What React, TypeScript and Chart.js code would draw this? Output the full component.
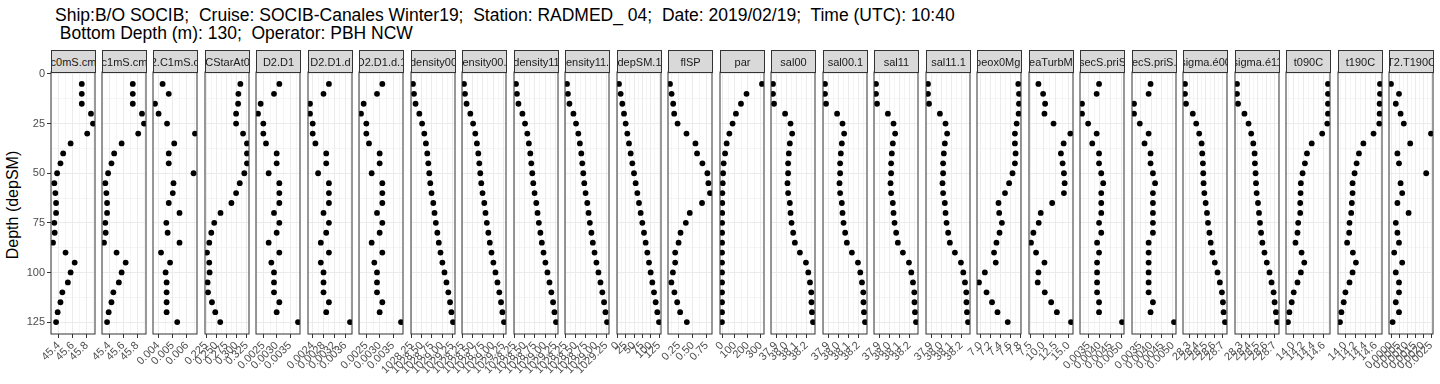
import React, { useEffect, useRef } from 'react';
import { Chart, registerables } from 'chart.js';

Chart.register(...registerables);

// ---------------- data ----------------
const depth = [5, 10, 15, 20, 25, 30, 35, 40, 45, 50, 55, 60, 65, 70, 75, 80, 85, 90, 95, 100, 105, 110, 115, 120, 125];
const yTickLabels = ['0', '25', '50', '75', '100', '125'];

const c0mS_cm = [45.731, 45.731, 45.731, 45.863, 45.892, 45.809, 45.571, 45.464, 45.425, 45.377, 45.337, 45.352, 45.362, 45.362, 45.337, 45.342, 45.318, 45.498, 45.629, 45.571, 45.531, 45.452, 45.425, 45.385, 45.362];
const c1mS_cm = [45.737, 45.737, 45.737, 45.869, 45.898, 45.815, 45.577, 45.470, 45.431, 45.383, 45.343, 45.358, 45.368, 45.368, 45.343, 45.348, 45.324, 45.504, 45.635, 45.577, 45.537, 45.458, 45.431, 45.391, 45.368];
const C2_C1mS_cm = [0.0043, 0.00473, 0.00377, 0.00402, 0.00461, 0.00656, 0.00511, 0.00473, 0.00473, 0.00646, 0.00506, 0.00501, 0.00473, 0.00548, 0.00456, 0.00465, 0.00548, 0.00419, 0.00482, 0.00451, 0.00458, 0.00458, 0.00458, 0.00458, 0.00532];
const CStarAt0 = [0.3094, 0.3045, 0.3038, 0.2989, 0.2989, 0.316, 0.3257, 0.3257, 0.3257, 0.3191, 0.3079, 0.2989, 0.2874, 0.2606, 0.2452, 0.2379, 0.233, 0.2274, 0.233, 0.2338, 0.2289, 0.2299, 0.2396, 0.2477, 0.2599];
const D2_D1 = [0.0031, 0.0029, 0.0024, 0.0023, 0.0025, 0.0025, 0.0026, 0.003, 0.003, 0.0027, 0.0031, 0.0031, 0.0031, 0.0029, 0.0031, 0.003, 0.0027, 0.0031, 0.0028, 0.0029, 0.0029, 0.0029, 0.0031, 0.003, 0.0038];
const D2_D1_d = [0.003, 0.0028, 0.0023, 0.0023, 0.0024, 0.0024, 0.0025, 0.0029, 0.0029, 0.0026, 0.003, 0.003, 0.003, 0.0028, 0.003, 0.0029, 0.0027, 0.003, 0.0027, 0.0028, 0.0028, 0.0028, 0.003, 0.0029, 0.00378];
const D2_D1_d_1 = [0.0031, 0.0029, 0.0024, 0.0023, 0.0025, 0.0025, 0.0026, 0.003, 0.003, 0.0027, 0.0031, 0.0031, 0.0031, 0.0029, 0.0031, 0.003, 0.0027, 0.0031, 0.0028, 0.0029, 0.0029, 0.0029, 0.0031, 0.003, 0.0038];
const density00 = [1028.287, 1028.311, 1028.35, 1028.443, 1028.511, 1028.565, 1028.604, 1028.638, 1028.663, 1028.687, 1028.711, 1028.743, 1028.785, 1028.816, 1028.848, 1028.885, 1028.921, 1028.963, 1029.009, 1029.06, 1029.109, 1029.155, 1029.197, 1029.231, 1029.27];
const density00_1 = [1028.287, 1028.311, 1028.35, 1028.443, 1028.511, 1028.565, 1028.604, 1028.638, 1028.663, 1028.687, 1028.711, 1028.743, 1028.785, 1028.816, 1028.848, 1028.885, 1028.921, 1028.963, 1029.009, 1029.06, 1029.109, 1029.155, 1029.197, 1029.231, 1029.27];
const density11 = [1028.288, 1028.311, 1028.348, 1028.446, 1028.51, 1028.566, 1028.604, 1028.639, 1028.663, 1028.688, 1028.712, 1028.744, 1028.786, 1028.817, 1028.849, 1028.887, 1028.922, 1028.964, 1029.01, 1029.06, 1029.11, 1029.156, 1029.198, 1029.232, 1029.27];
const density11_1 = [1028.288, 1028.311, 1028.348, 1028.446, 1028.51, 1028.566, 1028.604, 1028.639, 1028.663, 1028.688, 1028.712, 1028.744, 1028.786, 1028.817, 1028.849, 1028.887, 1028.922, 1028.964, 1029.01, 1029.06, 1029.11, 1029.156, 1029.198, 1029.232, 1029.27];
const depSM_1 = [5, 10, 15, 20, 25, 30, 35, 40, 45, 50, 55, 60, 65, 70, 75, 80, 85, 90, 95, 100, 105, 110, 115, 120, 125];
const flSP = [0.091, 0.12, 0.148, 0.166, 0.227, 0.387, 0.548, 0.577, 0.673, 0.762, 0.78, 0.809, 0.666, 0.446, 0.375, 0.28, 0.245, 0.184, 0.184, 0.143, 0.116, 0.17, 0.22, 0.273, 0.393];
const par = [310, 190, 147, 108, 82, 57, 36, 24, 13, 8.5, 5.4, 3, 2, 1.5, 1, 0.7, 0.5, 0.3, 0.2, 0.1, 0.1, 0.05, 0.03, 0.01, 0];
const sal00 = [37.868, 37.868, 37.878, 37.988, 38.042, 38.058, 38.035, 38.025, 38.018, 38.018, 38.012, 38.018, 38.035, 38.042, 38.052, 38.068, 38.085, 38.135, 38.195, 38.218, 38.235, 38.248, 38.25, 38.255, 38.265];
const sal00_1 = [37.868, 37.868, 37.878, 37.988, 38.042, 38.058, 38.035, 38.025, 38.018, 38.018, 38.012, 38.018, 38.035, 38.042, 38.052, 38.068, 38.085, 38.135, 38.195, 38.218, 38.235, 38.248, 38.25, 38.255, 38.265];
const sal11 = [37.869, 37.869, 37.879, 37.987, 38.043, 38.059, 38.036, 38.026, 38.019, 38.019, 38.013, 38.019, 38.036, 38.043, 38.053, 38.069, 38.086, 38.136, 38.196, 38.219, 38.236, 38.249, 38.251, 38.256, 38.266];
const sal11_1 = [37.869, 37.869, 37.879, 37.987, 38.043, 38.059, 38.036, 38.026, 38.019, 38.019, 38.013, 38.019, 38.036, 38.043, 38.053, 38.069, 38.086, 38.136, 38.196, 38.219, 38.236, 38.249, 38.251, 38.256, 38.266];
const sbeox0Mg_L = [7.765, 7.779, 7.779, 7.772, 7.731, 7.696, 7.696, 7.71, 7.696, 7.647, 7.578, 7.494, 7.362, 7.376, 7.431, 7.383, 7.32, 7.271, 7.306, 7.084, 6.965, 7.118, 7.23, 7.341, 7.55];
const seaTurbMtr = [9.07, 10.0, 10.4, 10.27, 12.07, 15.4, 14.07, 13.53, 13.87, 14.13, 14.27, 14.13, 11.8, 9.53, 9.13, 8.07, 7.6, 8.6, 10.27, 9.07, 8.93, 10.33, 11.6, 12.73, 15.53];
const secS_priS = [0.00397, 0.00386, 0.00319, 0.00319, 0.00347, 0.00386, 0.00366, 0.00397, 0.00397, 0.00407, 0.00416, 0.00407, 0.00407, 0.00407, 0.00397, 0.00407, 0.00388, 0.00397, 0.00388, 0.00388, 0.00388, 0.00388, 0.00397, 0.00397, 0.00502];
const secS_priS_1 = [0.00397, 0.00388, 0.0032, 0.0032, 0.00347, 0.00388, 0.00369, 0.00397, 0.00397, 0.00408, 0.00418, 0.00408, 0.00408, 0.00408, 0.00408, 0.00408, 0.00388, 0.00388, 0.00388, 0.00388, 0.00388, 0.00388, 0.00408, 0.00397, 0.00506];
const sigma_e00 = [28.247, 28.247, 28.259, 28.341, 28.382, 28.418, 28.447, 28.455, 28.463, 28.467, 28.471, 28.48, 28.496, 28.512, 28.524, 28.541, 28.557, 28.578, 28.606, 28.639, 28.667, 28.692, 28.704, 28.712, 28.729];
const sigma_e11 = [28.247, 28.247, 28.259, 28.337, 28.386, 28.418, 28.443, 28.459, 28.463, 28.471, 28.476, 28.484, 28.5, 28.512, 28.524, 28.537, 28.553, 28.578, 28.606, 28.639, 28.663, 28.688, 28.7, 28.716, 28.729];
const t090C = [14.687, 14.687, 14.687, 14.687, 14.673, 14.573, 14.367, 14.273, 14.233, 14.187, 14.153, 14.147, 14.14, 14.14, 14.1, 14.087, 14.047, 14.167, 14.22, 14.153, 14.087, 14.013, 13.973, 13.927, 13.9];
const t190C = [14.687, 14.687, 14.68, 14.68, 14.673, 14.56, 14.36, 14.273, 14.227, 14.187, 14.147, 14.147, 14.133, 14.12, 14.087, 14.08, 14.04, 14.153, 14.213, 14.147, 14.087, 14.007, 13.973, 13.927, 13.9];
const T2_T190C = [0, 0.0005, 0.0003, 0.0006, 0.0008, 0.0025, 0.0012, 0.0004, 0.0005, 0.0022, 0.0006, 0.0007, 0.0004, 0.0011, 0.0003, 0.0004, 0.0005, 0.0002, 0.0007, 0.0003, 0.0005, 0.0005, 0.0003, 0.0005, 0.0001];

// tick labels per panel
const ticksCond = ['45.4', '45.6', '45.8'];
const ticksC2C1 = ['0.004', '0.005', '0.006'];
const ticksCStar = ['0.225', '0.250', '0.275', '0.300', '0.325'];
const ticksD2D1 = ['0.0025', '0.0030', '0.0035'];
const ticksD2D1d = ['0.0024', '0.0028', '0.0032', '0.0036'];
const ticksDensity = ['1028.25', '1028.50', '1028.75', '1029.00', '1029.25'];
const ticksDepth = ['0', '25', '50', '75', '100', '125'];
const ticksFlSP = ['0.25', '0.50', '0.75'];
const ticksPar = ['0', '100', '200', '300'];
const ticksSal = ['37.9', '38.0', '38.1', '38.2'];
const ticksOx = ['7.0', '7.2', '7.4', '7.6', '7.8'];
const ticksTurb = ['7.5', '10.0', '12.5', '15.0'];
const ticksSecS = ['0.0035', '0.0040', '0.0045', '0.0050'];
const ticksSigma = ['28.3', '28.4', '28.5', '28.6', '28.7'];
const ticksTemp = ['14.0', '14.2', '14.4', '14.6'];
const ticksT2T1 = ['0.0000', '0.0005', '0.0010', '0.0015', '0.0020', '0.0025'];

const panelNames = ['c0mS.cm', 'c1mS.cm', 'C2.C1mS.cm', 'CStarAt0', 'D2.D1', 'D2.D1.d', 'D2.D1.d.1', 'density00', 'density00.1', 'density11', 'density11.1', 'depSM.1', 'flSP', 'par', 'sal00', 'sal00.1', 'sal11', 'sal11.1', 'sbeox0Mg.L', 'seaTurbMtr', 'secS.priS', 'secS.priS.1', 'sigma.é00', 'sigma.é11', 't090C', 't190C', 'T2.T190C'];
const panelValues = [c0mS_cm, c1mS_cm, C2_C1mS_cm, CStarAt0, D2_D1, D2_D1_d, D2_D1_d_1, density00, density00_1, density11, density11_1, depSM_1, flSP, par, sal00, sal00_1, sal11, sal11_1, sbeox0Mg_L, seaTurbMtr, secS_priS, secS_priS_1, sigma_e00, sigma_e11, t090C, t190C, T2_T190C];
const panelTicks = [ticksCond, ticksCond, ticksC2C1, ticksCStar, ticksD2D1, ticksD2D1d, ticksD2D1, ticksDensity, ticksDensity, ticksDensity, ticksDensity, ticksDepth, ticksFlSP, ticksPar, ticksSal, ticksSal, ticksSal, ticksSal, ticksOx, ticksTurb, ticksSecS, ticksSecS, ticksSigma, ticksSigma, ticksTemp, ticksTemp, ticksT2T1];

const titleLine1 = 'Ship:B/O SOCIB;  Cruise: SOCIB-Canales Winter19;  Station: RADMED_ 04;  Date: 2019/02/19;  Time (UTC): 10:40';
const titleLine2 = ' Bottom Depth (m): 130;  Operator: PBH NCW';
const yAxisTitle = 'Depth (depSM)';

// ---------------- layout ----------------
const FONT = '"Liberation Sans", Arial, Helvetica, sans-serif';
const W = 1440;
const H = 384;
const PANEL_TOP = 72;
const PANEL_BOTTOM = 334;
const PANEL_W = 44;
const PANEL_X0 = 50.5;
const PANEL_PITCH = 51.48;
const STRIP_TOP = 50;
const PADL = 36;
const PADR = 18;
const Y_AXIS_W = 50;

Chart.defaults.font.family = FONT;

function expandRange(vals: number[]): [number, number] {
  const mn = Math.min(...vals);
  const mx = Math.max(...vals);
  const d = mx - mn || 1;
  return [mn - 0.05 * d, mx + 0.05 * d];
}

type T = { value: number; label: string; major: boolean };

function buildTicks(labels: string[], lo: number, hi: number): T[] {
  const majors = labels.map(Number);
  const step = majors[1] - majors[0];
  const ext = [majors[0] - step, ...majors, majors[majors.length - 1] + step];
  const out: T[] = [];
  majors.forEach((v, i) => out.push({ value: v, label: labels[i], major: true }));
  for (let i = 0; i < ext.length - 1; i++) {
    const m = (ext[i] + ext[i + 1]) / 2;
    if (m >= lo && m <= hi) out.push({ value: m, label: '', major: false });
  }
  out.sort((a, b) => a.value - b.value);
  return out;
}

const panelBorder = {
  id: 'panelBorder',
  afterDraw(chart: any) {
    const { ctx, chartArea: a } = chart;
    ctx.save();
    ctx.strokeStyle = '#333333';
    ctx.lineWidth = 1;
    ctx.strokeRect(a.left, a.top, a.right - a.left, a.bottom - a.top);
    ctx.restore();
  },
};

function panelLeft(i: number) {
  return Math.round(PANEL_X0 + i * PANEL_PITCH);
}

function Panel({ index }: { index: number }) {
  const ref = useRef<HTMLCanvasElement>(null);
  const first = index === 0;
  const left = panelLeft(index);
  const padL = first ? 0 : PADL;
  const yW = first ? Y_AXIS_W : 0;
  const canvasLeft = left - padL - yW;
  const canvasW = padL + yW + PANEL_W + PADR;

  useEffect(() => {
    const vals = panelValues[index];
    const [lo, hi] = expandRange(vals);
    const xt = buildTicks(panelTicks[index], lo, hi);
    const [ylo, yhi] = expandRange(depth);
    const yt = buildTicks(yTickLabels, ylo, yhi);
    const chart = new Chart(ref.current as HTMLCanvasElement, {
      type: 'scatter',
      data: {
        datasets: [
          {
            data: vals.map((v, i) => ({ x: v, y: depth[i] })),
            backgroundColor: '#000000',
            borderWidth: 0,
            pointRadius: 2.9,
            pointHoverRadius: 2.9,
            clip: 0,
          } as any,
        ],
      },
      options: {
        animation: false,
        responsive: false,
        devicePixelRatio: 1,
        events: [],
        layout: { padding: { left: padL, right: PADR, top: PANEL_TOP, bottom: 0 } },
        plugins: { legend: { display: false }, tooltip: { enabled: false }, title: { display: false } },
        scales: {
          x: {
            type: 'linear',
            position: 'bottom',
            min: lo,
            max: hi,
            afterBuildTicks: (s: any) => {
              s.ticks = xt.map((t) => ({ value: t.value }));
            },
            afterFit: (s: any) => {
              s.height = H - PANEL_BOTTOM;
            },
            ticks: {
              autoSkip: false,
              minRotation: 45,
              maxRotation: 45,
              padding: 1,
              color: '#4D4D4D',
              font: { size: 11, family: FONT },
              callback: (_v: any, i: number) => (xt[i] ? xt[i].label : ''),
            },
            grid: {
              color: '#EBEBEB',
              lineWidth: (c: any) => (xt[c.index] && xt[c.index].major ? 1 : 0.5),
              drawTicks: true,
              tickLength: 4,
              tickWidth: 1,
              tickColor: (c: any) => (xt[c.index] && xt[c.index].major ? '#333333' : 'rgba(0,0,0,0)'),
            },
            border: { display: false },
          },
          y: {
            type: 'linear',
            reverse: true,
            min: ylo,
            max: yhi,
            afterBuildTicks: (s: any) => {
              s.ticks = yt.map((t) => ({ value: t.value }));
            },
            afterFit: (s: any) => {
              s.width = yW;
            },
            ticks: {
              display: first,
              autoSkip: false,
              padding: 2,
              color: '#4D4D4D',
              font: { size: 11, family: FONT },
              callback: (_v: any, i: number) => (yt[i] ? yt[i].label : ''),
            },
            grid: {
              color: '#EBEBEB',
              lineWidth: (c: any) => (yt[c.index] && yt[c.index].major ? 1 : 0.5),
              drawTicks: first,
              tickLength: 4,
              tickWidth: 1,
              tickColor: (c: any) => (yt[c.index] && yt[c.index].major ? '#333333' : 'rgba(0,0,0,0)'),
            },
            border: { display: false },
          },
        },
      } as any,
      plugins: [panelBorder],
    });
    return () => chart.destroy();
  }, [index]);

  return (
    <canvas
      ref={ref}
      width={canvasW}
      height={H}
      style={{ position: 'absolute', left: canvasLeft, top: 0, width: canvasW, height: H }}
    />
  );
}

function Strip({ index }: { index: number }) {
  const left = panelLeft(index);
  return (
    <div
      style={{
        position: 'absolute',
        left,
        top: STRIP_TOP,
        width: PANEL_W + 1,
        height: PANEL_TOP - STRIP_TOP + 1,
        boxSizing: 'border-box',
        background: '#D9D9D9',
        border: '1px solid #333333',
        overflow: 'hidden',
        display: 'flex',
        justifyContent: 'center',
        alignItems: 'center',
        fontFamily: FONT,
        fontSize: 11,
        color: '#1A1A1A',
      }}
    >
      <span style={{ whiteSpace: 'nowrap', flexShrink: 0 }}>{panelNames[index]}</span>
    </div>
  );
}

export default function App() {
  return (
    <div
      style={{
        position: 'absolute',
        left: 0,
        top: 0,
        width: W,
        height: H,
        overflow: 'hidden',
        background: '#FFFFFF',
        fontFamily: FONT,
      }}
    >
      <div
        style={{
          position: 'absolute',
          left: 55,
          top: 5.5,
          fontSize: 17.5,
          lineHeight: '18.3px',
          color: '#000000',
          whiteSpace: 'pre',
        }}
      >
        <div>{titleLine1}</div>
        <div>{titleLine2}</div>
      </div>
      <div
        style={{
          position: 'absolute',
          left: 13 - 100,
          top: 205 - 8,
          width: 200,
          height: 16,
          lineHeight: '16px',
          fontSize: 16,
          textAlign: 'center',
          color: '#000000',
          transform: 'rotate(-90deg)',
          transformOrigin: '50% 50%',
          whiteSpace: 'nowrap',
        }}
      >
        {yAxisTitle}
      </div>
      {panelNames.map((_, i) => (
        <Panel key={'p' + i} index={i} />
      ))}
      {panelNames.map((_, i) => (
        <Strip key={'s' + i} index={i} />
      ))}
    </div>
  );
}
